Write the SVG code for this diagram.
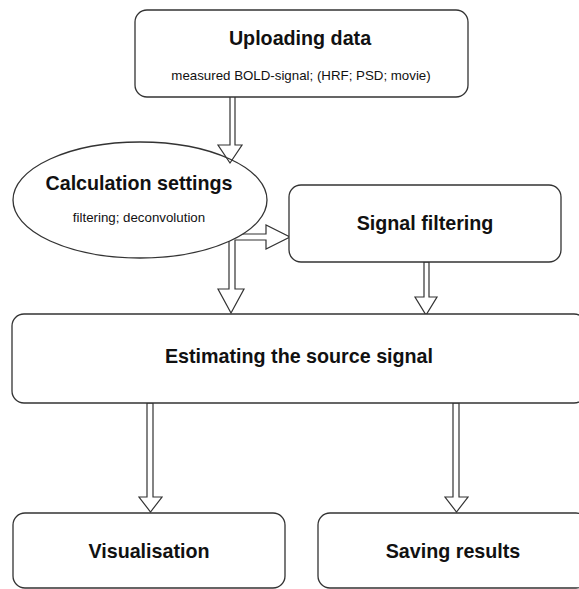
<svg xmlns="http://www.w3.org/2000/svg" width="579" height="589" viewBox="0 0 579 589">
  <style>
    .box { fill: #ffffff; stroke: #333333; stroke-width: 1.3; }
    .arrow { fill: #ffffff; stroke: #333333; stroke-width: 1.2; stroke-linejoin: miter; }
    .arrow-open { fill: none; stroke: #333333; stroke-width: 1.2; }
    .title { font-family: "Liberation Sans", Arial, sans-serif; font-weight: bold; font-size: 19.7px; fill: #111111; text-anchor: middle; }
    .sub { font-family: "Liberation Sans", Arial, sans-serif; font-size: 13.3px; fill: #111111; text-anchor: middle; }
  </style>
  <rect width="579" height="589" fill="#ffffff"/>

  <!-- connectors: hollow block arrows -->
  <g id="connectors">
    <!-- settings -> estimate (down) and settings -> filtering (right), shared root -->
    <path class="arrow" d="M229,225 V289 H218 L231,313 L244,289 H235 V240 H266 V249 L290,237 L266,225 V234 H235 V225 Z"/>
  </g>

  <g id="node-settings">
    <ellipse class="box" cx="140" cy="200" rx="127" ry="58"/>
    <text class="title" x="139" y="190">Calculation settings</text>
    <text class="sub" x="139" y="222">filtering; deconvolution</text>
  </g>

  <g id="connectors-2">
    <!-- upload -> settings -->
    <path class="arrow-open" d="M230,97 V145 H218 L230,163 L242,145 H235 V97"/>
    <!-- filtering -> estimate -->
    <path class="arrow" d="M424,262 V297 H415 L426,315 L437,297 H429 V262 Z"/>
    <!-- estimate -> visualisation -->
    <path class="arrow" d="M147,403 V497 H139 L150.5,512 L162,497 H153 V403 Z"/>
    <!-- estimate -> saving -->
    <path class="arrow" d="M453,403 V497 H445 L456.5,512 L468,497 H459 V403 Z"/>
  </g>

  <g id="node-upload">
    <rect class="box" x="135" y="10" width="333" height="87" rx="12"/>
    <text class="title" x="300" y="45">Uploading data</text>
    <text class="sub" x="301" y="80">measured BOLD-signal; (HRF; PSD; movie)</text>
  </g>

  <g id="node-filtering">
    <rect class="box" x="289" y="185" width="272" height="77" rx="12"/>
    <text class="title" x="425" y="230">Signal filtering</text>
  </g>

  <g id="node-estimate">
    <rect class="box" x="12" y="314" width="574" height="89" rx="12"/>
    <text class="title" x="299" y="363">Estimating the source signal</text>
  </g>

  <g id="node-visualisation">
    <rect class="box" x="13" y="513" width="272" height="75" rx="12"/>
    <text class="title" x="149" y="558">Visualisation</text>
  </g>

  <g id="node-saving">
    <rect class="box" x="318" y="513" width="270" height="75" rx="12"/>
    <text class="title" x="453" y="558">Saving results</text>
  </g>
</svg>
